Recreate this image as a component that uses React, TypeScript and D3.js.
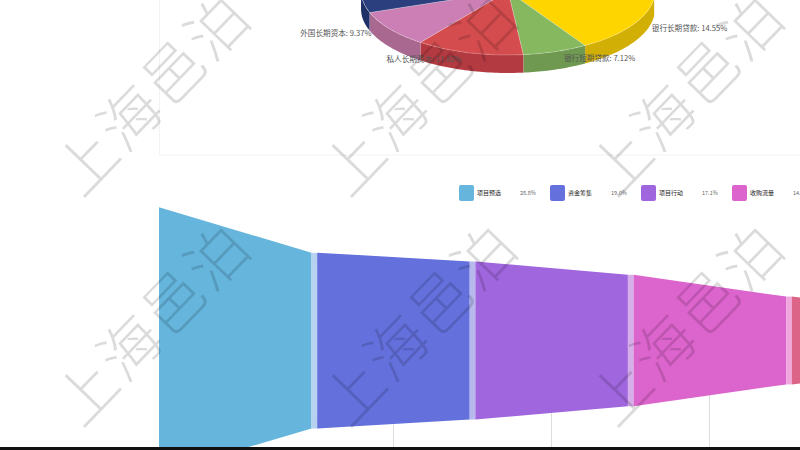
import { useRef, useEffect } from 'react';
import * as d3 from 'd3';

// pie: only the lower front of it is on the page
const pieNames = ['银行长期贷款', '银行短期贷款', '私人长期资本', '外国长期资本', ''];
const pieValues = [14.55, 7.12, 11.82, 9.37, 57.14];
const pieFaces = ['#ffd500', '#86b860', '#d44c4e', '#cb7fb4', '#2b3f7e'];
const pieSides = ['#d2af05', '#6f9850', '#b23a40', '#a8688f', '#1f3068'];

// funnel
const stageNames = ['项目预选', '资金筹集', '项目行动', '收购流量'];
const stageValues = [28.8, 19.0, 17.1, 14.2, 9.5, 6.0];
const stageColors = ['#65b5dc', '#6470dc', '#a066dd', '#dc64cd', '#dc6486'];
const gapColors = ['#b6d2ef', '#b6b8ee', '#d6aeea', '#f0a8de'];
const gridTicks = [20, 40, 60, 80];

// watermark
const markText = '上海邑泊';
const markCols = [85, 352, 619];
const markRows = [161, 391];

const FONT = '"Noto Sans CJK SC", "Noto Sans", sans-serif';

export default function App() {
  const svgRef = useRef<SVGSVGElement>(null);

  useEffect(() => {
    if (!svgRef.current) return;
    const svg = d3.select(svgRef.current);
    svg.selectAll('*').remove();

    // panel frame around the pie
    svg.append('path').attr('d', 'M159.5,0V155H800').attr('fill', 'none').attr('stroke', '#f3f3f3');

    // ── Pie ──────────────────────────────────────────────────────────────
    const cx = 508, cy = -9, rx = 147, ry = 64, depth = 18;
    const start = (96 * Math.PI) / 180;
    const slices = d3.pie<number>().sort(null).startAngle(start).endAngle(start + Math.PI * 2)(pieValues);
    const ex = (a: number) => cx + rx * Math.sin(a);
    const ey = (a: number) => cy - ry * Math.cos(a);

    const wall = d3.area<number>().x(ex).y0(ey).y1((a) => ey(a) + depth);
    slices.forEach((s, i) => {
      const a0 = Math.max(s.startAngle, Math.PI / 2);
      const a1 = Math.min(s.endAngle, (Math.PI * 3) / 2);
      if (a1 <= a0) return;
      const steps = d3.range(a0, a1, 0.02).concat(a1);
      svg.append('path').attr('d', wall(steps)).attr('fill', pieSides[i])
        .attr('stroke', 'rgba(255,255,255,0.12)').attr('stroke-width', 0.5);
    });

    const arc = d3.arc<d3.PieArcDatum<number>>().innerRadius(0).outerRadius(1);
    const face = svg.append('g').attr('transform', `translate(${cx},${cy}) scale(${rx},${ry})`);
    face.selectAll('path').data(slices).join('path')
      .attr('d', arc)
      .attr('fill', (_, i) => pieFaces[i])
      .attr('stroke', 'rgba(255,255,255,0.3)')
      .attr('stroke-width', 0.7)
      .attr('vector-effect', 'non-scaling-stroke');

    slices.forEach((s, i) => {
      if (!pieNames[i]) return;
      const mid = (s.startAngle + s.endAngle) / 2;
      const right = Math.sin(mid) > 0;
      svg.append('text')
        .attr('x', cx + rx * 1.14 * Math.sin(mid) + (right ? 2 : -2))
        .attr('y', cy - ry * 1.12 * Math.cos(mid) + 2)
        .attr('text-anchor', right ? 'start' : 'end')
        .attr('font-family', FONT).attr('font-size', 7.6).attr('fill', '#555')
        .text(`${pieNames[i]}: ${pieValues[i].toFixed(2)}%`);
    });

    // ── Legend ───────────────────────────────────────────────────────────
    stageNames.forEach((name, i) => {
      const lx = 459 + i * 91;
      svg.append('rect').attr('x', lx).attr('y', 185).attr('width', 15).attr('height', 16).attr('rx', 2).attr('fill', stageColors[i]);
      svg.append('text').attr('x', lx + 18).attr('y', 195).attr('font-family', FONT).attr('font-size', 6).attr('fill', '#222').text(name);
      svg.append('text').attr('x', lx + 61).attr('y', 195).attr('font-family', FONT).attr('font-size', 5.5).attr('fill', '#666').text(`${stageValues[i].toFixed(1)}%`);
    });

    // ── Funnel ───────────────────────────────────────────────────────────
    const gridX = d3.scaleLinear().domain([0, 100]).range([77, 867]);
    svg.selectAll('.grid').data(gridTicks).join('line')
      .attr('class', 'grid')
      .attr('x1', (d) => gridX(d) + 0.5).attr('x2', (d) => gridX(d) + 0.5)
      .attr('y1', 340).attr('y2', 447)
      .attr('stroke', '#ddd');

    const stageX = d3.scaleLinear().domain([0, 5]).range([159, 950]);
    const thick = d3.scaleLinear().domain([0, 100]).range([0, 925]);
    const midY = 340.5;
    const gap = 5.7;
    const band = d3.area<[number, number]>()
      .x((d) => d[0])
      .y0((d) => midY - thick(d[1]) / 2)
      .y1((d) => midY + thick(d[1]) / 2);

    stageColors.forEach((color, i) => {
      const x0 = stageX(i);
      const x1 = stageX(i + 1) - gap;
      svg.append('path').attr('d', band([[x0, stageValues[i]], [x1, stageValues[i + 1]]])).attr('fill', color);
      if (gapColors[i]) {
        svg.append('path').attr('d', band([[x1, stageValues[i + 1]], [x1 + gap, stageValues[i + 1]]])).attr('fill', gapColors[i]);
      }
    });

    // strip along the bottom edge of the page
    svg.append('rect').attr('x', 0).attr('y', 447).attr('width', 800).attr('height', 3).attr('fill', '#111');

    // ── Watermark on top of everything ───────────────────────────────────
    markRows.forEach((my) => {
      markCols.forEach((mx) => {
        svg.append('text')
          .attr('transform', `translate(${mx},${my}) rotate(-46)`)
          .attr('x', -30).attr('y', 24)
          .attr('font-family', FONT).attr('font-size', 60).attr('font-weight', 300)
          .attr('letter-spacing', 2.7)
          .attr('fill', 'rgba(0,0,0,0.14)')
          .text(markText);
      });
    });
  }, []);

  return (
    <svg
      ref={svgRef}
      width={800}
      height={450}
      style={{ position: 'absolute', left: 0, top: 0, background: '#fff' }}
    />
  );
}
